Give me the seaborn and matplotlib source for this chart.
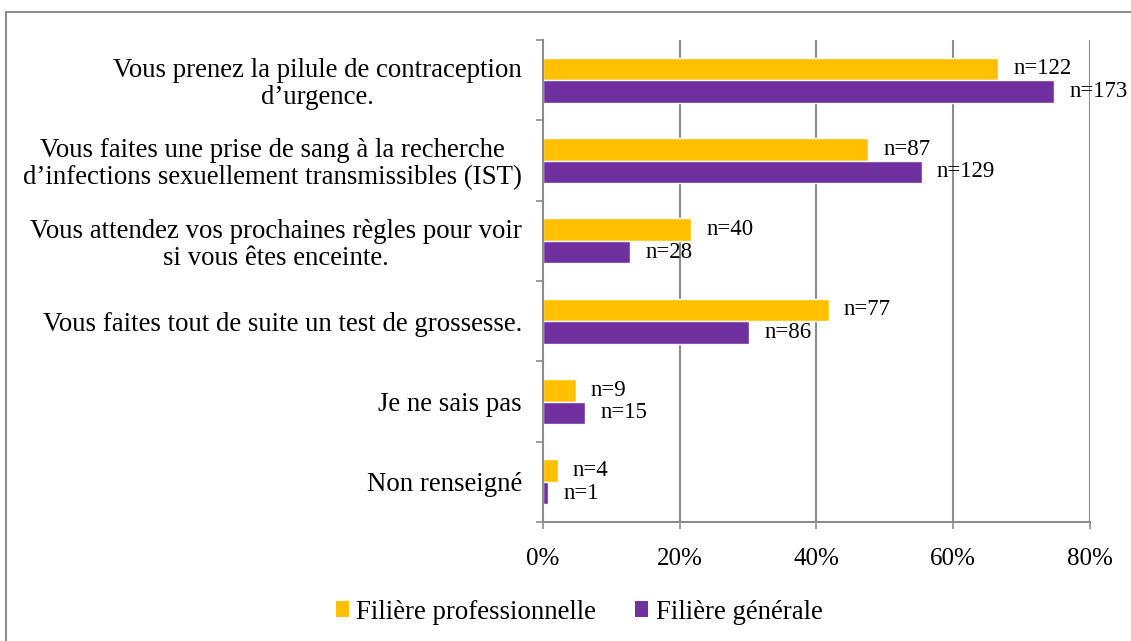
import numpy as np
import pandas as pd
import matplotlib
matplotlib.use("Agg")
import matplotlib.pyplot as plt
import seaborn as sns
from matplotlib.ticker import PercentFormatter, FixedLocator
from matplotlib.lines import Line2D
from matplotlib.patches import Patch

# Data (percent of each group)
questions = [
    "Vous prenez la pilule de contraception\nd\u2019urgence.",
    "Vous faites une prise de sang à la recherche\nd\u2019infections sexuellement transmissibles (IST)",
    "Vous attendez vos prochaines règles pour voir\nsi vous êtes enceinte.",
    "Vous faites tout de suite un test de grossesse.",
    "Je ne sais pas",
    "Non renseigné",
]
pro_pct = [66.6, 47.6, 21.7, 41.8, 4.8, 2.2]
gen_pct = [74.8, 55.4, 12.8, 30.2, 6.2, 0.8]
pro_n = [122, 87, 40, 77, 9, 4]
gen_n = [173, 129, 28, 86, 15, 1]
groups = ["Filière professionnelle", "Filière générale"]
colors = ["#FFC000", "#7030A0"]
grey = "#8C8C8C"

df = pd.DataFrame({
    "question": questions * 2,
    "filiere": [groups[0]] * len(questions) + [groups[1]] * len(questions),
    "pct": [v / 100 for v in pro_pct + gen_pct],
})

sns.set_style("white")
plt.rcParams["font.family"] = ["Liberation Serif", "DejaVu Serif"]
plt.rcParams["text.color"] = "black"
fs_cat = 19.3
fs_tick = 18
fs_n = 16.5

fig = plt.figure(figsize=(11.31, 6.41), dpi=100)
ax = fig.add_axes([0.480, 0.1856, 0.4837, 0.752])

sns.barplot(data=df, y="question", x="pct", hue="filiere", palette=colors,
            order=questions, hue_order=groups, width=0.56, saturation=1,
            orient="h", ax=ax, legend=False)

# n= labels next to each bar
for cont, ns in zip(ax.containers, [pro_n, gen_n]):
    for bar, n in zip(cont, ns):
        ax.annotate(f"n={n}", xy=(bar.get_width(), bar.get_y() + bar.get_height() / 2),
                    xytext=(15, 0), textcoords="offset pixels",
                    va="center", ha="left", fontsize=fs_n, color="black")

ax.set_xlim(0, 0.8)
ax.set_ylim(len(questions) - 0.5, -0.5)
ax.xaxis.set_major_locator(FixedLocator([0, 0.2, 0.4, 0.6, 0.8]))
ax.xaxis.set_major_formatter(PercentFormatter(1.0, decimals=0))
for x in [0.2, 0.4, 0.6, 0.8]:
    ax.axvline(x, color=grey, lw=1.5, zorder=0)

ax.set_xlabel("")
ax.set_ylabel("")
ax.yaxis.set_minor_locator(FixedLocator(np.arange(-0.5, len(questions), 1.0)))
ax.tick_params(axis="y", which="major", length=0, pad=15, labelsize=fs_cat, labelcolor="black")
ax.tick_params(axis="y", which="minor", left=True, length=5, width=1.2, color=grey, direction="out")
ax.tick_params(axis="x", which="major", bottom=True, length=5, width=1.2, color=grey,
               direction="out", pad=14, labelsize=fs_tick, labelcolor="black")
for lbl in ax.get_yticklabels():
    lbl.set_multialignment("center")
    lbl.set_linespacing(1.1)

for side in ["top", "right"]:
    ax.spines[side].set_visible(False)
for side in ["left", "bottom"]:
    ax.spines[side].set_color(grey)
    ax.spines[side].set_linewidth(1.5)

handles = [Patch(facecolor=c, edgecolor="none") for c in colors]
fig.legend(handles, groups, loc="center", bbox_to_anchor=(0.512, 0.045), ncol=2,
           frameon=False, fontsize=fs_cat, handlelength=0.5, handleheight=0.5,
           handletextpad=0.27, columnspacing=1.45)

# partial border of the original frame
fig.add_artist(Line2D([6 / 1131, 6 / 1131], [0, 1 - 12 / 641], transform=fig.transFigure,
                      color=grey, lw=1.5))
fig.add_artist(Line2D([6 / 1131, 1], [1 - 12 / 641, 1 - 12 / 641], transform=fig.transFigure,
                      color=grey, lw=1.5))

fig.savefig("out.png", dpi=100)
